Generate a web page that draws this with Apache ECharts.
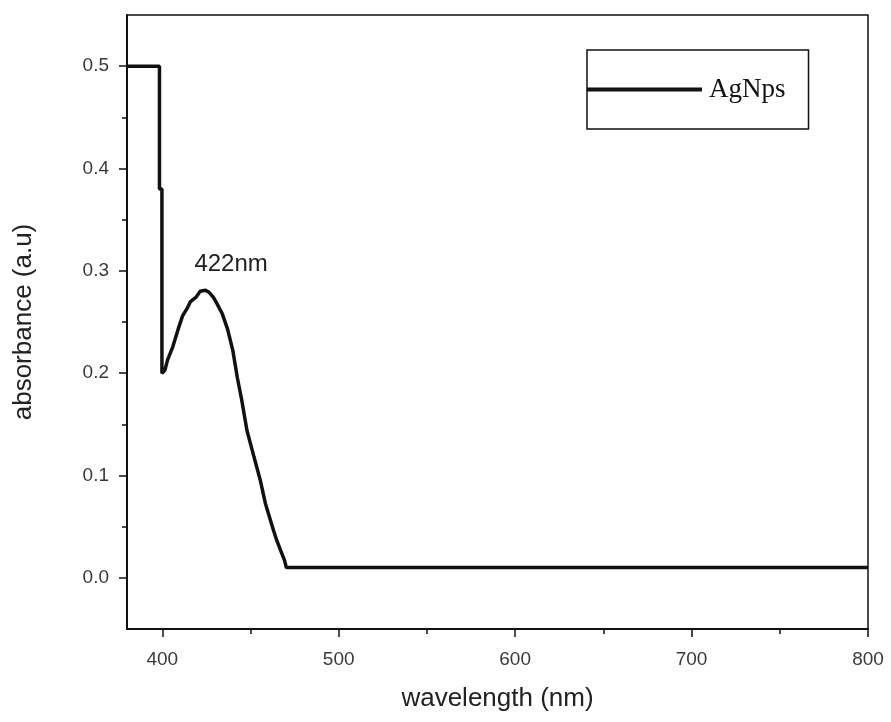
<!DOCTYPE html>
<html>
<head>
<meta charset="utf-8">
<script src="https://cdn.jsdelivr.net/npm/echarts@6/dist/echarts.min.js"></script>
<style>html,body{margin:0;padding:0;background:#fff;}#chart{width:891px;height:722px;}</style>
</head>
<body>
<div id="chart"></div>
<script>
var seriesName = 'AgNps';
var wavelength = [380, 398.4, 398.4, 399.8, 399.8, 401.5, 403, 406, 409, 411.5, 414, 416, 419, 421.5, 424.5, 426.5, 429, 431, 434, 437, 440, 442.5, 445, 448, 452, 455.6, 458.4, 461, 463.1, 465, 467, 469.3, 470.3, 800];
var absorbance = [0.5, 0.5, 0.38, 0.38, 0.2, 0.203, 0.213, 0.226, 0.243, 0.256, 0.263, 0.27, 0.274, 0.28, 0.281, 0.279, 0.274, 0.268, 0.258, 0.243, 0.222, 0.196, 0.174, 0.144, 0.118, 0.095, 0.073, 0.058, 0.046, 0.036, 0.027, 0.017, 0.01, 0.01];
var xTicks = [400, 500, 600, 700, 800];
var xMinorTicks = [450, 550, 650, 750];
var yTicks = [0.0, 0.1, 0.2, 0.3, 0.4, 0.5];
var yMinorTicks = [0.05, 0.15, 0.25, 0.35, 0.45];
var peakLabel = '422nm';
var peakPoint = [422, 0.281];
var xName = 'wavelength (nm)';
var yName = 'absorbance (a.u)';

var data = wavelength.map(function (w, i) { return [w, absorbance[i]]; });
var ink = '#111';
var labelFont = { fontFamily: 'Liberation Sans', fontSize: 19, color: '#3a3a3a' };

var chart = echarts.init(document.getElementById('chart'), null, { renderer: 'canvas' });
chart.setOption({
  backgroundColor: '#fff',
  animation: false,
  grid: { left: 127, right: 23, top: 15, bottom: 93, show: true, borderColor: ink, borderWidth: 1.5, containLabel: false },
  legend: {
    show: true,
    left: 587, top: 50,
    data: [seriesName],
    icon: 'rect',
    itemWidth: 115, itemHeight: 4,
    itemGap: 0,
    padding: [26, 23, 26, 0],
    borderColor: ink, borderWidth: 1.5,
    textStyle: { fontFamily: 'Liberation Serif', fontSize: 27, color: '#111', padding: [0, 0, 0, 2] }
  },
  xAxis: [{
    type: 'value', min: 380, max: 800,
    name: xName, nameLocation: 'middle', nameGap: 57,
    nameTextStyle: { fontFamily: 'Liberation Sans', fontSize: 26, color: '#222' },
    axisLine: { show: true, onZero: false, lineStyle: { color: ink, width: 2 } },
    axisTick: { show: true, customValues: xTicks, length: 8, inside: false, lineStyle: { color: ink, width: 1.5 } },
    axisLabel: Object.assign({ customValues: xTicks, margin: 21 }, labelFont),
    splitLine: { show: false }
  }, {
    type: 'value', min: 380, max: 800, position: 'bottom',
    axisLine: { show: false, onZero: false },
    axisTick: { show: true, customValues: xMinorTicks, length: 5, inside: false, lineStyle: { color: ink, width: 1.5 } },
    axisLabel: { show: false },
    splitLine: { show: false }
  }],
  yAxis: [{
    type: 'value', min: -0.05, max: 0.55,
    name: yName, nameLocation: 'middle', nameGap: 90,
    nameTextStyle: { fontFamily: 'Liberation Sans', fontSize: 26, color: '#222' },
    axisLine: { show: true, onZero: false, lineStyle: { color: ink, width: 2 } },
    axisTick: { show: true, customValues: yTicks, length: 8, inside: false, lineStyle: { color: ink, width: 1.5 } },
    axisLabel: Object.assign({ customValues: yTicks, margin: 18, formatter: function (v) { return v.toFixed(1); } }, labelFont),
    splitLine: { show: false }
  }, {
    type: 'value', min: -0.05, max: 0.55, position: 'left',
    axisLine: { show: false, onZero: false },
    axisTick: { show: true, customValues: yMinorTicks, length: 5, inside: false, lineStyle: { color: ink, width: 1.5 } },
    axisLabel: { show: false },
    splitLine: { show: false }
  }],
  series: [{
    name: seriesName,
    type: 'line',
    xAxisIndex: 0, yAxisIndex: 0,
    data: data,
    showSymbol: false,
    color: '#111',
    lineStyle: { color: '#111', width: 3.5 },
    markPoint: {
      symbol: 'circle', symbolSize: 0,
      data: [{ coord: peakPoint }],
      label: {
        show: true, position: 'inside', offset: [30, -26],
        formatter: peakLabel,
        fontFamily: 'Liberation Sans', fontSize: 24, color: '#222'
      }
    }
  }]
});
</script>
</body>
</html>
